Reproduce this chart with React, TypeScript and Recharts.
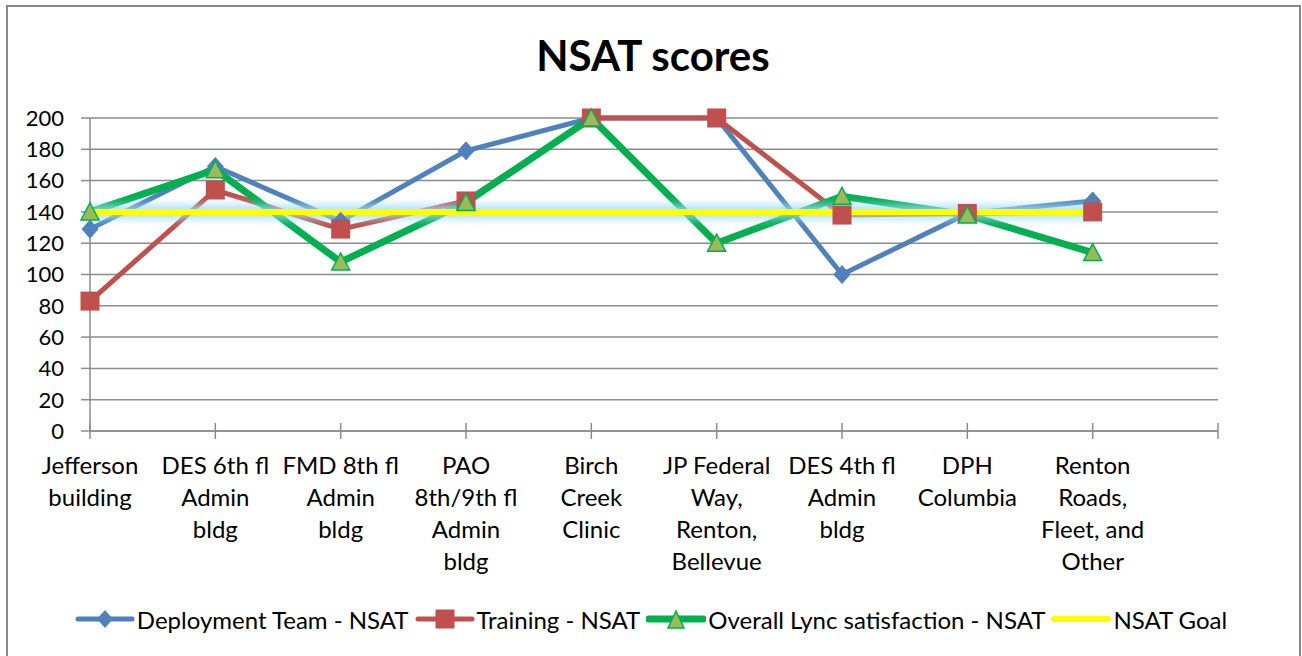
import React from "react";
import { LineChart, Line, XAxis, YAxis, CartesianGrid, Legend } from "recharts";

const categories = [
  "Jefferson\nbuilding",
  "DES 6th fl\nAdmin\nbldg",
  "FMD 8th fl\nAdmin\nbldg",
  "PAO\n8th/9th fl\nAdmin\nbldg",
  "Birch\nCreek\nClinic",
  "JP Federal\nWay,\nRenton,\nBellevue",
  "DES 4th fl\nAdmin\nbldg",
  "DPH\nColumbia",
  "Renton\nRoads,\nFleet, and\nOther",
  "",
];
const deploymentTeam = [129, 169, 134, 179, 200, 200, 100, 139, 147, null];
const training = [83, 154, 129, 147, 200, 200, 138, 139, 140, null];
const overallLync = [140, 167, 108, 146, 200, 120, 150, 138, 114, null];
const nsatGoal = [140, 140, 140, 140, 140, 140, 140, 140, 140, null];
const yTicks = [0, 20, 40, 60, 80, 100, 120, 140, 160, 180, 200];

const seriesNames = [
  "Deployment Team - NSAT",
  "Training - NSAT",
  "Overall Lync satisfaction - NSAT",
  "NSAT Goal",
];

const BLUE = "#4F81BD";
const RED = "#C0504D";
const GREEN = "#00B050";
const GREEN_FILL = "#9BBB59";
const YELLOW = "#FFFF00";
const GRID = "#8C8C8C";
const FONT = "Lato, 'Open Sans', sans-serif";

const data = categories.map((c, i) => ({
  cat: c,
  dep: deploymentTeam[i],
  tr: training[i],
  ov: overallLync[i],
  goal: nsatGoal[i],
}));

const Diamond = (p: any) => {
  const { cx, cy, index } = p;
  if (cx == null || cy == null || p.value == null) return <g key={`d${index}`} />;
  return (
    <polygon
      key={`d${index}`}
      points={`${cx},${cy - 9} ${cx + 8},${cy} ${cx},${cy + 9} ${cx - 8},${cy}`}
      fill={BLUE}
      stroke={BLUE}
      strokeWidth={1}
    />
  );
};
const Square = (p: any) => {
  const { cx, cy, index } = p;
  if (cx == null || cy == null || p.value == null) return <g key={`s${index}`} />;
  return <rect key={`s${index}`} x={cx - 9.5} y={cy - 9.5} width={19} height={19} fill={RED} />;
};
const Triangle = (p: any) => {
  const { cx, cy, index } = p;
  if (cx == null || cy == null || p.value == null) return <g key={`t${index}`} />;
  return (
    <polygon
      key={`t${index}`}
      points={`${cx},${cy - 9} ${cx + 9},${cy + 8} ${cx - 9},${cy + 8}`}
      fill={GREEN_FILL}
      stroke={GREEN}
      strokeWidth={1.5}
    />
  );
};

const XTick = (p: any) => {
  const { x, y, payload } = p;
  const lines = String(payload.value).split("\n").filter((s) => s.length > 0);
  return (
    <g>
      <line x1={x} y1={y - 8} x2={x} y2={y + 8} stroke={GRID} strokeWidth={1.5} />
      {lines.map((ln, i) => (
        <text
          key={i}
          x={x}
          y={y + 43 + i * 32}
          textAnchor="middle"
          fontFamily={FONT}
          fontSize={24}
          fill="#000"
        >
          {ln}
        </text>
      ))}
    </g>
  );
};

const LegendIcon = ({ color, kind, width }: { color: string; kind: string; width: number }) => (
  <svg width={60} height={24} style={{ display: "block" }}>
    <line x1={3} y1={12} x2={57} y2={12} stroke={color} strokeWidth={width} strokeLinecap="round" />
    {kind === "diamond" && <polygon points="30,3 38,12 30,21 22,12" fill={BLUE} />}
    {kind === "square" && <rect x={20.5} y={2.5} width={19} height={19} fill={RED} />}
    {kind === "triangle" && (
      <polygon points="30,4 38,21 22,21" fill={GREEN_FILL} stroke={GREEN} strokeWidth={1.5} />
    )}
  </svg>
);

const legendItems = [
  { name: seriesNames[0], color: BLUE, kind: "diamond", width: 5 },
  { name: seriesNames[1], color: RED, kind: "square", width: 5 },
  { name: seriesNames[2], color: GREEN, kind: "triangle", width: 7 },
  { name: seriesNames[3], color: YELLOW, kind: "none", width: 6 },
];

const LegendContent = () => (
  <div
    style={{
      display: "flex",
      justifyContent: "center",
      alignItems: "center",
      height: 30,
      fontFamily: FONT,
      fontSize: 24,
      color: "#000",
      whiteSpace: "nowrap",
    }}
  >
    {legendItems.map((it, i) => (
      <div key={i} style={{ display: "flex", alignItems: "center", marginRight: i < 3 ? 6 : 0 }}>
        <LegendIcon color={it.color} kind={it.kind} width={it.width} />
        <span style={{ marginLeft: 2 }}>{it.name}</span>
      </div>
    ))}
  </div>
);

export default function App() {
  return (
    <div style={{ position: "absolute", left: 0, top: 0, width: 1302, height: 656, background: "#fff", overflow: "hidden" }}>
      <div
        style={{
          position: "absolute",
          left: 6,
          top: 5,
          width: 1295,
          height: 680,
          border: "2px solid #888888",
          boxSizing: "border-box",
        }}
      />
      <div style={{ position: "absolute", left: 0, top: 0 }}>
        <LineChart
          width={1302}
          height={656}
          data={data}
          margin={{ top: 118, right: 84, left: 10, bottom: 55 }}
        >
          <defs>
            <filter id="goalGlow" filterUnits="userSpaceOnUse" x="0" y="0" width="1302" height="656">
              <feGaussianBlur stdDeviation="4" />
            </filter>
          </defs>
          <text x={653} y={71} textAnchor="middle" fontFamily={FONT} fontWeight={700} fontSize={42} fill="#000">
            NSAT scores
          </text>
          <CartesianGrid vertical={false} stroke={GRID} strokeWidth={1.5} strokeDasharray="" />
          <XAxis
            dataKey="cat"
            interval={0}
            height={140}
            tickSize={0}
            tickMargin={0}
            tickLine={false}
            axisLine={{ stroke: GRID, strokeWidth: 1.5 }}
            tick={<XTick />}
          />
          <YAxis
            domain={[0, 200]}
            ticks={yTicks}
            width={80}
            tickSize={9}
            tickMargin={17}
            interval={0}
            axisLine={{ stroke: GRID, strokeWidth: 1.5 }}
            tickLine={{ stroke: GRID, strokeWidth: 1.5 }}
            tick={{ fill: "#000", fontSize: 22, fontFamily: FONT }}
          />
          <Legend
            verticalAlign="bottom"
            content={<LegendContent />}
            wrapperStyle={{ top: 604, bottom: "auto", left: 0, width: 1302, height: 30 }}
          />
          <Line dataKey="dep" name={seriesNames[0]} stroke={BLUE} strokeWidth={5} dot={Diamond} activeDot={false} isAnimationActive={false} />
          <Line dataKey="tr" name={seriesNames[1]} stroke={RED} strokeWidth={5} dot={Square} activeDot={false} isAnimationActive={false} />
          <Line dataKey="ov" name={seriesNames[2]} stroke={GREEN} strokeWidth={7} dot={Triangle} activeDot={false} isAnimationActive={false} />
          <Line
            dataKey="goal"
            legendType="none"
            stroke="#9FDDF3"
            strokeOpacity={0.85}
            strokeWidth={14}
            filter="url(#goalGlow)"
            dot={false}
            activeDot={false}
            isAnimationActive={false}
          />
          <Line dataKey="goal" name={seriesNames[3]} stroke={YELLOW} strokeWidth={6} dot={false} activeDot={false} isAnimationActive={false} />
        </LineChart>
      </div>
    </div>
  );
}
